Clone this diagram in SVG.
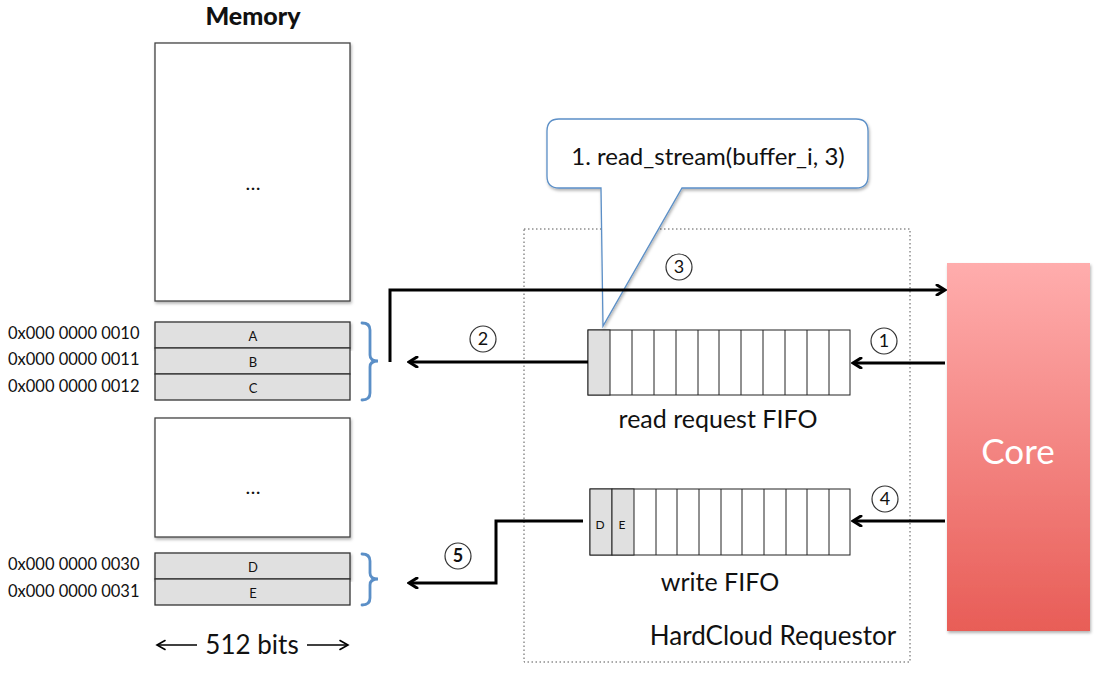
<svg xmlns="http://www.w3.org/2000/svg" width="1097" height="678" viewBox="0 0 1097 678">
<style>
text{font-family:Lato,"Open Sans","Liberation Sans",sans-serif;fill:#111}
.mem{fill:#fff;stroke:#444;stroke-width:1.3}
.row{fill:#e0e0e0;stroke:#333;stroke-width:1.3}
.cell{fill:#fff;stroke:#222;stroke-width:1}
.gcell{fill:#e0e0e0;stroke:#222;stroke-width:1}
.addr{font-size:16.5px}
.rl{font-size:13px;text-anchor:middle}
.brace{fill:none;stroke:#5b8fc7;stroke-width:2.8;stroke-linecap:round}
.conn{fill:none;stroke:#000;stroke-width:3;stroke-linejoin:miter}
.num{fill:#fff;stroke:#333;stroke-width:1.2}
.numt{font-size:18px;text-anchor:middle}
.lbl{font-size:25px;text-anchor:middle}
</style>
<defs>
<marker id="ah" markerWidth="12" markerHeight="12" refX="9" refY="6" orient="auto" markerUnits="userSpaceOnUse">
<path d="M2,1 L10,6 L2,11" fill="none" stroke="#000" stroke-width="3" stroke-linecap="round" stroke-linejoin="miter"/>
</marker>
<marker id="ah2" markerWidth="12" markerHeight="12" refX="9" refY="6" orient="auto" markerUnits="userSpaceOnUse">
<path d="M2,1.5 L10,6 L2,10.5" fill="none" stroke="#000" stroke-width="1.6" stroke-linecap="round"/>
</marker>
<linearGradient id="coreg" x1="0" y1="0" x2="0" y2="1">
<stop offset="0" stop-color="#ffadad"/>
<stop offset="1" stop-color="#e85d57"/>
</linearGradient>
<filter id="sh" x="-10%" y="-10%" width="120%" height="120%">
<feDropShadow dx="1" dy="2" stdDeviation="1.5" flood-color="#000" flood-opacity="0.3"/>
</filter>
</defs>
<rect width="1097" height="678" fill="#fff"/>

<g id="memory">
<text x="253" y="25" font-size="25" font-weight="900" text-anchor="middle">Memory</text>
<rect class="mem" x="155" y="43" width="195" height="258" filter="url(#sh)"/>
<text x="253" y="190" font-size="20" text-anchor="middle">…</text>
<rect class="mem" x="155" y="418" width="195" height="119" filter="url(#sh)"/>
<text x="253" y="494" font-size="20" text-anchor="middle">…</text>
</g>

<g id="rowsABC">
<rect class="row" x="155" y="322" width="195" height="26" filter="url(#sh)"/>
<rect class="row" x="155" y="348" width="195" height="26"/>
<rect class="row" x="155" y="374" width="195" height="26"/>
<text class="rl" x="253" y="341">A</text>
<text class="rl" x="253" y="367">B</text>
<text class="rl" x="253" y="393">C</text>
<text class="addr" x="8" y="339">0x000 0000 0010</text>
<text class="addr" x="8" y="365">0x000 0000 0011</text>
<text class="addr" x="8" y="392">0x000 0000 0012</text>
<path class="brace" d="M362,323 Q370,323 370,330 L370,355 Q370,361 378,361 Q370,361 370,367 L370,393 Q370,400 362,400"/>
</g>

<g id="rowsDE">
<rect class="row" x="155" y="553" width="195" height="26" filter="url(#sh)"/>
<rect class="row" x="155" y="579" width="195" height="26"/>
<text class="rl" x="253" y="572">D</text>
<text class="rl" x="253" y="598">E</text>
<text class="addr" x="8" y="570">0x000 0000 0030</text>
<text class="addr" x="8" y="597">0x000 0000 0031</text>
<path class="brace" d="M362,554 Q370,554 370,561 L370,573 Q370,579 378,579 Q370,579 370,585 L370,598 Q370,605 362,605"/>
</g>

<g id="width-label">
<line x1="197" y1="645" x2="158" y2="645" stroke="#000" stroke-width="1.6" marker-end="url(#ah2)"/>
<line x1="307" y1="645" x2="347" y2="645" stroke="#000" stroke-width="1.6" marker-end="url(#ah2)"/>
<text x="252" y="654" font-size="26" text-anchor="middle">512 bits</text>
</g>

<g id="requestor">
<rect x="524" y="229" width="386" height="433" fill="none" stroke="#555" stroke-width="1" stroke-dasharray="1.5,2.5"/>
<text x="773" y="645" font-size="26" text-anchor="middle">HardCloud Requestor</text>
</g>

<g id="read-fifo">
<rect class="cell" x="588" y="330" width="262" height="65"/>
<rect class="gcell" x="588" y="330" width="22" height="65"/>
<path stroke="#222" stroke-width="1" d="M632,330V395M654,330V395M676,330V395M698,330V395M719,330V395M741,330V395M763,330V395M785,330V395M807,330V395M829,330V395"/>
<text class="lbl" x="718" y="428">read request FIFO</text>
</g>

<g id="write-fifo">
<rect class="cell" x="590" y="489" width="260" height="66"/>
<rect class="gcell" x="590" y="489" width="22" height="66"/>
<rect class="gcell" x="612" y="489" width="22" height="66"/>
<path stroke="#222" stroke-width="1" d="M656,489V555M677,489V555M699,489V555M721,489V555M742,489V555M764,489V555M786,489V555M807,489V555M829,489V555"/>
<text x="600" y="529" font-size="12" text-anchor="middle">D</text>
<text x="622" y="529" font-size="12" text-anchor="middle">E</text>
<text class="lbl" x="720" y="591" font-size="28">write FIFO</text>
</g>

<g id="core">
<rect x="947" y="263" width="143" height="368" fill="url(#coreg)" filter="url(#sh)"/>
<text x="1018" y="464" font-size="35" text-anchor="middle" style="fill:#fff">Core</text>
</g>

<g id="callout">
<path d="M559,119 H856 Q868,119 868,131 V176 Q868,188 856,188 H682 L603,326 L601,188 H559 Q547,188 547,176 V131 Q547,119 559,119 Z" fill="#fff" stroke="#5b8fc7" stroke-width="1.3" filter="url(#sh)"/>
<text x="708" y="165" font-size="24" text-anchor="middle">1. read_stream(buffer_i, 3)</text>
</g>

<g id="connectors">
<path class="conn" d="M390,362 V290 H944" marker-end="url(#ah)"/>
<path class="conn" d="M588,362 H410" marker-end="url(#ah)"/>
<path class="conn" d="M945,363 H854" marker-end="url(#ah)"/>
<path class="conn" d="M945,521 H854" marker-end="url(#ah)"/>
<path class="conn" d="M583,521 H496 V583 H410" marker-end="url(#ah)"/>
</g>

<g id="step-numbers">
<circle class="num" cx="884" cy="341" r="13"/><text class="numt" x="884" y="347">1</text>
<circle class="num" cx="483" cy="339" r="13"/><text class="numt" x="483" y="345">2</text>
<circle class="num" cx="679" cy="267" r="13"/><text class="numt" x="679" y="273">3</text>
<circle class="num" cx="885" cy="499" r="13"/><text class="numt" x="885" y="505">4</text>
<circle class="num" cx="458" cy="556" r="13" stroke-width="1.8"/><text class="numt" x="458" y="562" font-weight="bold">5</text>
</g>
</svg>
